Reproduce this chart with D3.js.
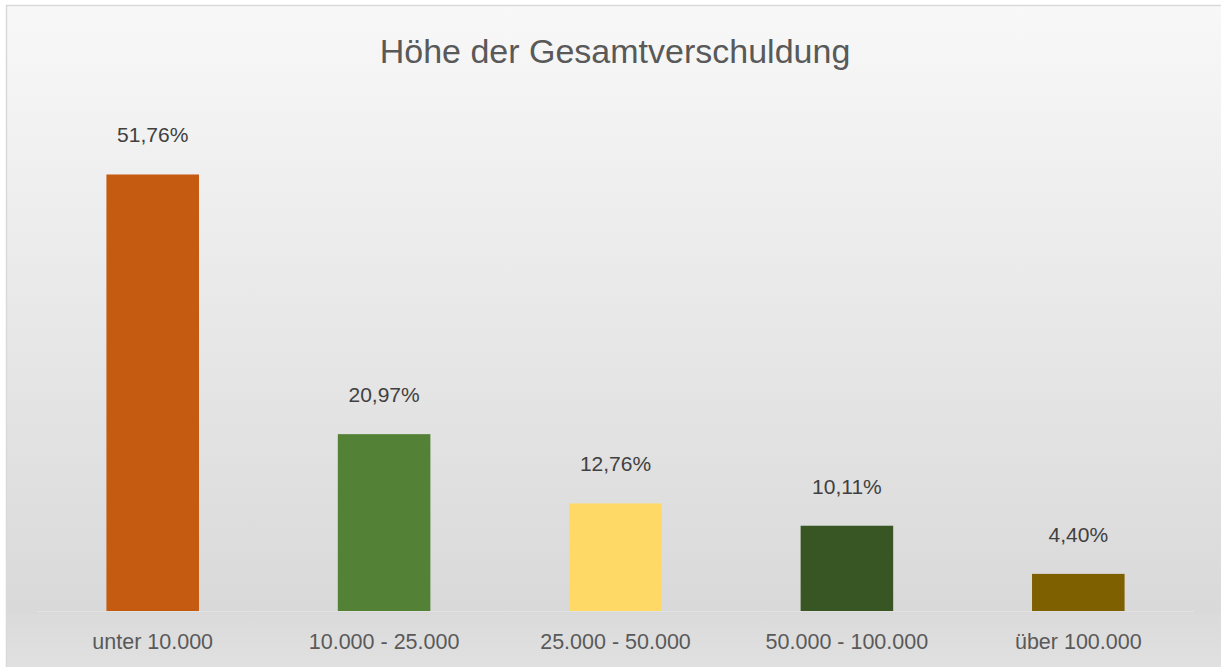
<!DOCTYPE html>
<html>
<head>
<meta charset="utf-8">
<script src="https://cdn.jsdelivr.net/npm/d3@7"></script>
<style>
  body { margin: 0; background: #ffffff; }
  svg { display: block; }
</style>
</head>
<body>
<svg id="chart"></svg>
<script>
// Chart data
const categories = ["unter 10.000", "10.000 - 25.000", "25.000 - 50.000", "50.000 - 100.000", "über 100.000"];
const values = [51.76, 20.97, 12.76, 10.11, 4.40];
const barColors = ["#C55A11", "#538135", "#FFD966", "#375623", "#7F6000"];

const data = categories.map((c, i) => ({ category: c, value: values[i], color: barColors[i] }));

// Dimensions
const width = 1221;
const height = 667;
const margin = { top: 105, right: 27, bottom: 56, left: 37 };
const baseY = height - margin.bottom;

const svg = d3.select("#chart")
  .attr("width", width)
  .attr("height", height);

// Background gradient
const defs = svg.append("defs");
const grad = defs.append("linearGradient")
  .attr("id", "bg")
  .attr("x1", 0).attr("y1", 0).attr("x2", 0).attr("y2", 1);
grad.append("stop").attr("offset", "0%").attr("stop-color", "#f8f8f8");
grad.append("stop").attr("offset", "91%").attr("stop-color", "#d9d9d9");
grad.append("stop").attr("offset", "91.5%").attr("stop-color", "#dbdbdb");
grad.append("stop").attr("offset", "100%").attr("stop-color", "#e1e1e1");

svg.append("rect")
  .attr("x", 6.5)
  .attr("y", 5.5)
  .attr("width", width)
  .attr("height", height)
  .attr("fill", "url(#bg)")
  .attr("stroke", "#d9d9d9")
  .attr("stroke-width", 1.5);

// Scales
const xScale = d3.scaleBand()
  .domain(categories)
  .range([margin.left, width - margin.right])
  .paddingInner(0.6)
  .paddingOuter(0.3);

const yScale = d3.scaleLinear()
  .domain([0, 60])
  .range([baseY, margin.top]);

// Baseline
svg.append("line")
  .attr("x1", margin.left)
  .attr("x2", width - margin.right)
  .attr("y1", baseY + 0.5)
  .attr("y2", baseY + 0.5)
  .attr("stroke", "#e2e2e2")
  .attr("stroke-width", 1);

// Bars
svg.selectAll(".bar")
  .data(data)
  .enter()
  .append("rect")
  .attr("class", "bar")
  .attr("x", d => xScale(d.category))
  .attr("y", d => yScale(d.value))
  .attr("width", xScale.bandwidth())
  .attr("height", d => baseY - yScale(d.value))
  .attr("fill", d => d.color);

// Value labels
const fmt = d => d3.format(".2f")(d).replace(".", ",") + "%";
svg.selectAll(".value-label")
  .data(data)
  .enter()
  .append("text")
  .attr("class", "value-label")
  .attr("x", d => xScale(d.category) + xScale.bandwidth() / 2)
  .attr("y", d => yScale(d.value) - 32)
  .attr("text-anchor", "middle")
  .style("font-family", "'Liberation Sans', Arial, sans-serif")
  .style("font-size", "21px")
  .style("fill", "#404040")
  .text(d => fmt(d.value));

// Category labels
svg.selectAll(".cat-label")
  .data(data)
  .enter()
  .append("text")
  .attr("class", "cat-label")
  .attr("x", d => xScale(d.category) + xScale.bandwidth() / 2)
  .attr("y", baseY + 38)
  .attr("text-anchor", "middle")
  .style("font-family", "'Liberation Sans', Arial, sans-serif")
  .style("font-size", "21.5px")
  .style("fill", "#595959")
  .text(d => d.category);

// Title
svg.append("text")
  .attr("x", 615)
  .attr("y", 63)
  .attr("text-anchor", "middle")
  .style("font-family", "'Liberation Sans', Arial, sans-serif")
  .style("font-size", "34px")
  .style("fill", "#595959")
  .text("Höhe der Gesamtverschuldung");
</script>
</body>
</html>
